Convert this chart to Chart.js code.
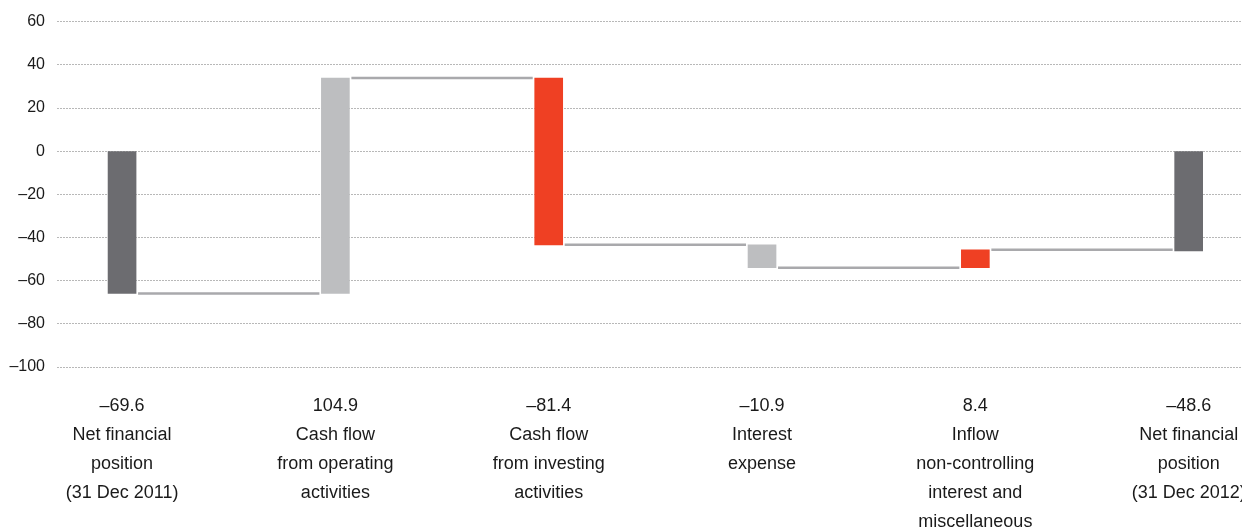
<!DOCTYPE html>
<html>
<head>
<meta charset="utf-8">
<script src="https://cdn.jsdelivr.net/npm/chart.js@4.4.1/dist/chart.umd.min.js"></script>
<style>
  html, body { margin: 0; padding: 0; background: #ffffff; }
  #wrap { width: 1242px; height: 529px; }
</style>
</head>
<body>
<div id="wrap"><canvas id="c" width="1242" height="529"></canvas></div>
<script>
// ---- data ----
const categories = [
  ['Net financial', 'position', '(31 Dec 2011)'],
  ['Cash flow', 'from operating', 'activities'],
  ['Cash flow', 'from investing', 'activities'],
  ['Interest', 'expense'],
  ['Inflow', 'non-controlling', 'interest and', 'miscellaneous'],
  ['Net financial', 'position', '(31 Dec 2012)']
];
const labelValues = [-69.6, 104.9, -81.4, -10.9, 8.4, -48.6];
// bar extents as drawn in the picture (start, end)
const barStart = [0, -65.9, 33.9, -43.4, -54.0, 0];
const barEnd   = [-65.9, 33.9, -43.4, -54.0, -45.7, -46.2];
const yTicks = [60, 40, 20, 0, -20, -40, -60, -80, -100];

// ---- styles ----
const barColors = ['#6c6c70', '#bdbec0', '#ef4023', '#bdbec0', '#ef4023', '#6c6c70'];
const FONT = "'Liberation Sans', Arial, Helvetica, sans-serif";
const dash = (v) => (v < 0 ? '\u2013' + Math.abs(v) : String(v));

const connectorPlugin = {
  id: 'connectors',
  beforeDatasetsDraw(chart) {
    const meta = chart.getDatasetMeta(0);
    const ys = chart.scales.y;
    const ctx = chart.ctx;
    ctx.save();
    ctx.strokeStyle = '#a9a9ac';
    ctx.lineWidth = 2.5;
    for (let i = 0; i < meta.data.length - 1; i++) {
      const a = meta.data[i], b = meta.data[i + 1];
      const y = ys.getPixelForValue(barEnd[i]);
      ctx.beginPath();
      ctx.moveTo(a.x + a.width / 2 + 2, y);
      ctx.lineTo(b.x - b.width / 2 - 2, y);
      ctx.stroke();
    }
    ctx.restore();
  }
};

new Chart(document.getElementById('c'), {
  type: 'bar',
  data: {
    datasets: [{
      data: categories.map((c, i) => ({ x: i, y: [barStart[i], barEnd[i]] })),
      backgroundColor: barColors,
      borderWidth: 0,
      barThickness: 28
    }]
  },
  options: {
    responsive: false,
    devicePixelRatio: 1,
    animation: false,
    layout: { padding: { top: 21.7, right: 0, bottom: 0, left: 0 } },
    plugins: { legend: { display: false }, tooltip: { enabled: false } },
    scales: {
      x: {
        type: 'linear',
        offset: false,
        min: -0.305,
        max: 5.25,
        grid: { display: false, drawTicks: false, offset: false },
        border: { display: false },
        afterBuildTicks: (s) => { s.ticks = categories.map((c, i) => ({ value: i })); },
        afterFit: (s) => { s.height = 162; s.paddingLeft = 0; s.paddingRight = 0; },
        ticks: {
          autoSkip: false,
          maxRotation: 0,
          minRotation: 0,
          padding: 24,
          color: '#1a1a1a',
          font: { family: FONT, size: 18, lineHeight: 1.62 },
          callback: (v) => {
            const i = Math.round(v);
            return [dash(labelValues[i])].concat(categories[i]);
          }
        }
      },
      y: {
        min: -100,
        max: 60,
        afterBuildTicks: (s) => { s.ticks = yTicks.map(v => ({ value: v })); },
        afterFit: (s) => { s.width = 57; },
        grid: {
          color: '#b8b8b8',
          lineWidth: 1,
          drawTicks: false
        },
        border: { display: false, dash: [2, 1] },
        ticks: {
          padding: 12,
          color: '#1a1a1a',
          font: { family: FONT, size: 16 },
          callback: (v) => dash(v)
        }
      }
    }
  },
  plugins: [connectorPlugin]
});
</script>
</body>
</html>
